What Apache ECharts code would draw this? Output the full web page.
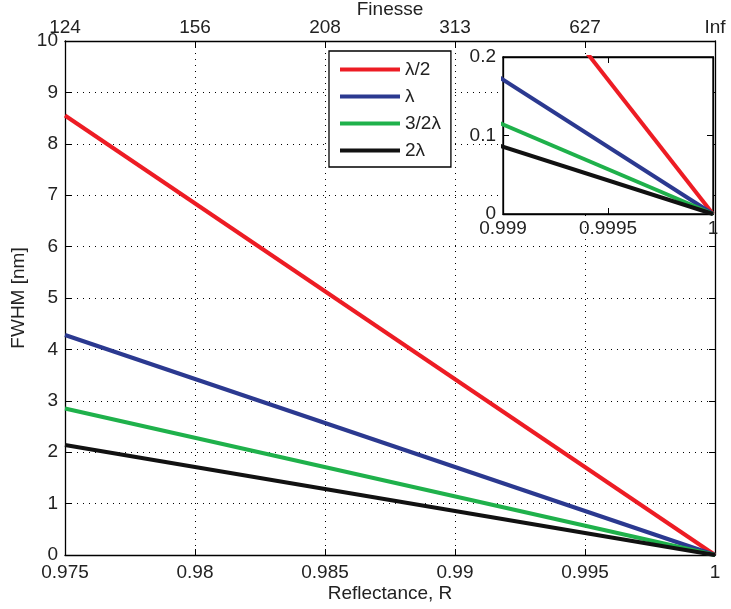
<!DOCTYPE html>
<html><head><meta charset="utf-8">
<script src="https://cdn.jsdelivr.net/npm/echarts@6/dist/echarts.min.js"></script>
<style>html,body{margin:0;padding:0;background:#fff}#c{width:731px;height:609px}</style>
</head><body><div id="c"></div>
<script>
// Data
const reflectance = [0.975, 1];
const seriesNames = ['λ/2', 'λ', '3/2λ', '2λ'];
const halfLambda = [8.55, 0];
const lambda1 = [4.28, 0];
const threeHalfLambda = [2.85, 0];
const twoLambda = [2.14, 0];
const finesseLabels = ['124', '156', '208', '313', '627', 'Inf'];
const colors = ['#ed1c24', '#2b3990', '#1fb14b', '#111111'];

const values = [halfLambda, lambda1, threeHalfLambda, twoLambda];
const FONT = 'Liberation Sans, Arial, sans-serif';
const TXT = '#222';
const FS = 19;

const chart = echarts.init(document.getElementById('c'), null, {renderer: 'canvas'});

function pts(arr) { return reflectance.map((x, i) => [x, arr[i]]); }

const tick = {show: true, inside: true, length: 6, lineStyle: {color: '#000', width: 1}};
const line = {show: true, onZero: false, lineStyle: {color: '#000', width: 1.3}};
const lab = {color: TXT, fontSize: FS, fontFamily: FONT};
const dotted = {show: true, lineStyle: {color: '#000', type: [1, 5], width: 1}};

const series = [];
values.forEach((v, i) => {
  series.push({name: seriesNames[i], type: 'line', xAxisIndex: 0, yAxisIndex: 0, data: pts(v),
    showSymbol: false, symbol: 'none', lineStyle: {color: colors[i], width: 4}, itemStyle: {color: colors[i]}, z: 3, animation: false});
});
values.forEach((v, i) => {
  series.push({name: seriesNames[i], type: 'line', xAxisIndex: 3, yAxisIndex: 2, data: pts(v), clip: true,
    showSymbol: false, symbol: 'none', lineStyle: {color: colors[i], width: 4}, itemStyle: {color: colors[i]}, z: 8, animation: false});
});

const option = {
  backgroundColor: '#fff',
  animation: false,
  textStyle: {fontFamily: FONT},
  grid: [
    {left: 65, top: 41, width: 650, height: 514, containLabel: false, outerBoundsMode: 'none'},
    {left: 503, top: 57, width: 210, height: 157, show: true, backgroundColor: '#fff', borderColor: '#000', borderWidth: 1.3, z: 5, containLabel: false, outerBoundsMode: 'none'}
  ],
  legend: {
    data: seriesNames, orient: 'vertical', left: 329, top: 51,
    icon: 'rect', itemWidth: 60, itemHeight: 4, itemGap: 8,
    padding: [9, 10, 7, 11], borderColor: '#000', borderWidth: 1.3, backgroundColor: '#fff',
    textStyle: {color: TXT, fontSize: FS, fontFamily: FONT, lineHeight: 17, padding: [0, 0, 0, 0]},
    selectedMode: false, z: 6
  },
  xAxis: [
    {gridIndex: 0, type: 'value', position: 'bottom', min: 0.975, max: 1, interval: 0.005,
      name: 'Reflectance, R', nameLocation: 'middle', nameGap: 29, nameMoveOverlap: false, nameTextStyle: {color: TXT, fontSize: FS, fontFamily: FONT},
      axisLine: line, axisTick: tick, splitLine: dotted,
      axisLabel: Object.assign({}, lab, {margin: 8, formatter: v => String(parseFloat(v.toFixed(4)))})},
    {gridIndex: 0, type: 'value', position: 'top', min: 0.975, max: 1, interval: 0.005,
      name: 'Finesse', nameLocation: 'middle', nameGap: 22, nameMoveOverlap: false, nameTextStyle: {color: TXT, fontSize: FS, fontFamily: FONT},
      axisLine: line, axisTick: tick, splitLine: {show: false},
      axisLabel: Object.assign({}, lab, {margin: 4, formatter: v => finesseLabels[Math.round((v - 0.975) / 0.005)]})},
    {gridIndex: 1, type: 'value', position: 'top', min: 0.999, max: 1, interval: 0.0005, z: 6,
      axisLine: line, axisTick: tick, splitLine: {show: false}, axisLabel: {show: false}},
    {gridIndex: 1, type: 'value', position: 'bottom', min: 0.999, max: 1, interval: 0.0005, z: 6,
      axisLine: line, axisTick: tick, splitLine: {show: false},
      axisLabel: Object.assign({}, lab, {margin: 5, formatter: v => String(parseFloat(v.toFixed(5)))})}
  ],
  yAxis: [
    {gridIndex: 0, type: 'value', position: 'left', min: 0, max: 10, interval: 1,
      name: 'FWHM [nm]', nameLocation: 'middle', nameGap: 37, nameMoveOverlap: false, nameRotate: 90, nameTextStyle: {color: TXT, fontSize: FS, fontFamily: FONT},
      axisLine: line, axisTick: tick, splitLine: dotted, axisLabel: Object.assign({}, lab, {margin: 7})},
    {gridIndex: 0, type: 'value', position: 'right', min: 0, max: 10, interval: 1,
      axisLine: line, axisTick: tick, splitLine: {show: false}, axisLabel: {show: false}},
    {gridIndex: 1, type: 'value', position: 'left', min: 0, max: 0.2, interval: 0.1, z: 6,
      axisLine: line, axisTick: tick, splitLine: {show: false},
      axisLabel: Object.assign({}, lab, {margin: 7, formatter: v => String(parseFloat(v.toFixed(2)))})},
    {gridIndex: 1, type: 'value', position: 'right', min: 0, max: 0.2, interval: 0.1, z: 6,
      axisLine: line, axisTick: tick, splitLine: {show: false}, axisLabel: {show: false}}
  ],
  series: series
};
chart.setOption(option);
</script></body></html>
